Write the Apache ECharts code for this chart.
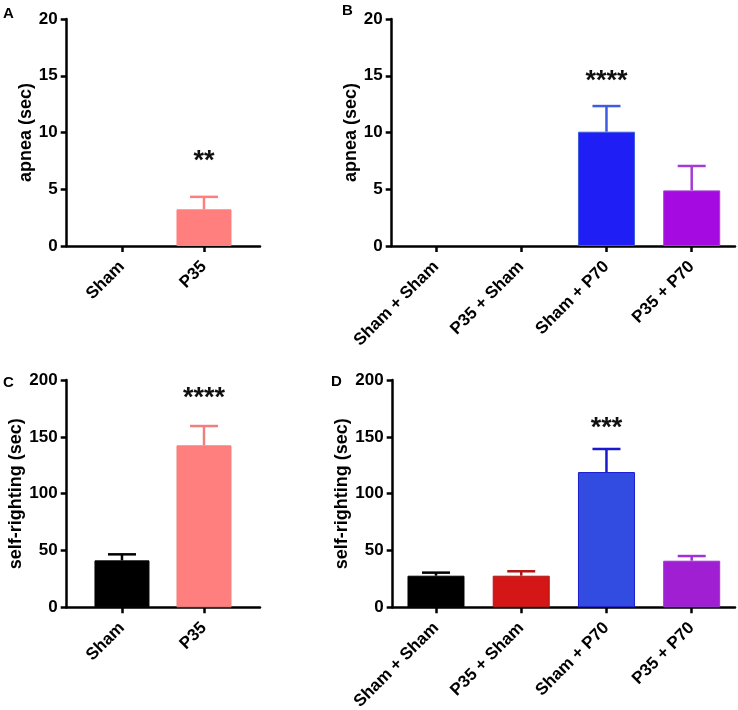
<!DOCTYPE html>
<html><head><meta charset="utf-8">
<script src="https://cdn.jsdelivr.net/npm/echarts@6/dist/echarts.min.js"></script>
<style>html,body{margin:0;padding:0;background:#fff}#c{width:738px;height:710px}</style>
</head><body><div id="c"></div>
<script>
// ---- data ----
const cats2 = ['Sham', 'P35'];
const cats4 = ['Sham + Sham', 'P35 + Sham', 'Sham + P70', 'P35 + P70'];

const apneaA = [0, 3.23];
const apneaAErr = [0, 1.1];
const apneaB = [0, 0, 10.07, 4.9];
const apneaBErr = [0, 0, 2.26, 2.15];
const rightingC = [41.3, 142.5];
const rightingCErr = [5.3, 17.0];
const rightingD = [27.8, 27.8, 119.0, 41.0];
const rightingDErr = [2.7, 3.9, 20.3, 4.1];

const apneaTicks = [0, 5, 10, 15, 20];
const rightingTicks = [0, 50, 100, 150, 200];

const starTexts = ['**', '****', '****', '***'];
const starCats = [1, 2, 1, 2];
const starYs = [7.4, 14.45, 183.5, 157.6];

const panelLetters = ['A', 'B', 'C', 'D'];

const fillA = ['#000000', '#FF7F7F'];
const errColA = ['#000000', '#FF7F7F'];
const fillB = ['#000000', '#D41616', '#1E1EF5', '#A50BE0'];
const errColB = ['#000000', '#D41616', '#3F5BE0', '#A33CD6'];
const fillC = ['#000000', '#FF7F7F'];
const errColC = ['#000000', '#F08080'];
const fillD = ['#000000', '#D41616', '#324CE1', '#A11FD3'];
const errColD = ['#000000', '#B01818', '#1A1ACD', '#A030D8'];

// ---- chart ----
const FONT = "'Liberation Sans', Arial, Helvetica, sans-serif";
const chart = echarts.init(document.getElementById('c'), null, {renderer: 'canvas'});

const gridBase = {containLabel: false, outerBoundsMode: 'none'};
const grids = [
  Object.assign({left: 66.7, top: 19, width: 193.3, height: 227}, gridBase),
  Object.assign({left: 391.7, top: 19, width: 343.3, height: 227}, gridBase),
  Object.assign({left: 66.7, top: 380, width: 193.3, height: 227.3}, gridBase),
  Object.assign({left: 392.7, top: 380, width: 342.3, height: 227.3}, gridBase)
];
const xRanges = [[-0.674, 1.683], [-0.52, 3.508], [-0.674, 1.683], [-0.508, 3.508]];
const panelCats = [cats2, cats4, cats2, cats4];
const panelVals = [apneaA, apneaB, rightingC, rightingD];
const panelErrs = [apneaAErr, apneaBErr, rightingCErr, rightingDErr];
const panelFill = [fillA, fillB, fillC, fillD];
const panelErrCol = [errColA, errColB, errColC, errColD];
const panelTicks = [apneaTicks, apneaTicks, rightingTicks, rightingTicks];
const panelNames = ['apnea (sec)', 'apnea (sec)', 'self-righting (sec)', 'self-righting (sec)'];
const nameGaps = [30, 30, 40, 42];
const barWidths = [55, 57, 55, 57];

const axisLineStyle = {color: '#000', width: 2.5};

const xAxes = [], yAxes = [], series = [];
for (let p = 0; p < 4; p++) {
  const cats = panelCats[p];
  const idxs = cats.map((_, i) => i);
  xAxes.push({
    type: 'value', gridIndex: p, min: xRanges[p][0], max: xRanges[p][1],
    splitLine: {show: false},
    axisLine: {show: true, onZero: false, lineStyle: axisLineStyle},
    axisTick: {show: true, length: 6, lineStyle: axisLineStyle, customValues: idxs},
    axisLabel: {
      show: true, customValues: idxs, rotate: 45, margin: 18,
      formatter: (v) => cats[Math.round(v)],
      fontFamily: FONT, fontWeight: 'bold', fontSize: 17, color: '#000'
    }
  });
  const ticks = panelTicks[p];
  yAxes.push({
    type: 'value', gridIndex: p, min: ticks[0], max: ticks[ticks.length - 1],
    interval: ticks[1] - ticks[0],
    splitLine: {show: false},
    axisLine: {show: true, onZero: false, lineStyle: axisLineStyle},
    axisTick: {show: true, length: 6, lineStyle: axisLineStyle},
    axisLabel: {fontFamily: FONT, fontWeight: 'bold', fontSize: 17, color: '#000', margin: 9},
    name: panelNames[p], nameLocation: 'middle', nameRotate: 90, nameGap: nameGaps[p],
    nameTextStyle: {fontFamily: FONT, fontWeight: 'bold', fontSize: 18, color: '#000'}
  });

  const vals = panelVals[p], errs = panelErrs[p], fills = panelFill[p], ecols = panelErrCol[p];
  series.push({
    type: 'bar', xAxisIndex: p, yAxisIndex: p, barWidth: barWidths[p],
    data: vals.map((v, i) => ({
      value: [i, v],
      itemStyle: {color: fills[i], borderColor: ecols[i], borderWidth: v > 0 ? 1 : 0}
    })),
    silent: true, animation: false
  });
  series.push({
    type: 'custom', xAxisIndex: p, yAxisIndex: p, z: 3,
    data: vals.map((v, i) => [i, v, errs[i]]),
    renderItem: function (params, api) {
      const x = api.value(0), v = api.value(1), e = api.value(2);
      if (!(e > 0)) return null;
      const c = ecols[Math.round(x)];
      const p0 = api.coord([x, v]);
      const p1 = api.coord([x, v + e]);
      const half = 14;
      const st = {stroke: c, lineWidth: 2.5, fill: null};
      return {type: 'group', children: [
        {type: 'line', shape: {x1: p0[0], y1: p0[1], x2: p1[0], y2: p1[1]}, style: st},
        {type: 'line', shape: {x1: p1[0] - half, y1: p1[1], x2: p1[0] + half, y2: p1[1]}, style: st}
      ]};
    },
    silent: true, animation: false
  });
  series.push({
    type: 'custom', xAxisIndex: p, yAxisIndex: p, z: 4,
    data: [[starCats[p], starYs[p]]],
    renderItem: function (params, api) {
      const pt = api.coord([api.value(0), api.value(1)]);
      return {type: 'text', x: pt[0], y: pt[1], style: {
        text: starTexts[p], textAlign: 'center', textVerticalAlign: 'middle',
        fontFamily: FONT, fontSize: 27, fontWeight: 'bold', fill: '#111'
      }};
    },
    silent: true, animation: false
  });
}

const letterPos = [[3, 6], [342, 3], [3, 375], [331, 374]];
const titles = panelLetters.map((t, i) => ({
  text: t, left: letterPos[i][0], top: letterPos[i][1], padding: 0,
  textStyle: {fontFamily: FONT, fontWeight: 'bold', fontSize: 15, color: '#000'}
}));

chart.setOption({
  animation: false,
  backgroundColor: '#fff',
  title: titles,
  grid: grids,
  xAxis: xAxes,
  yAxis: yAxes,
  series: series
});
</script>
</body></html>
